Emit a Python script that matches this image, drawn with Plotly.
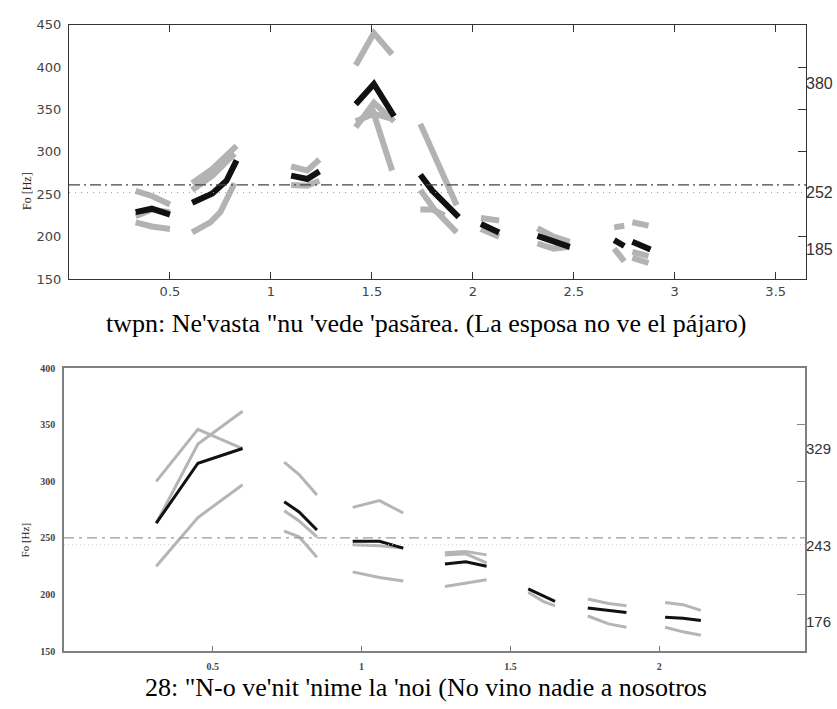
import plotly.graph_objects as go

W, H = 837, 709

# ---------------- top chart data ----------------
top_caption = "twpn: Ne'vasta \"nu 'vede 'pasărea. (La esposa no ve el pájaro)"
top_xticks = [0.5, 1, 1.5, 2, 2.5, 3, 3.5]
top_yticks = [150, 200, 250, 300, 350, 400, 450]
top_right_ticks = [200, 300, 350, 400]
top_right_labels = [380, 252, 185]
top_ref_dashdot = 261
top_ref_dot = 252

top_black_x = [[0.33, 0.41, 0.50], [0.61, 0.71, 0.78, 0.83], [1.10, 1.18, 1.24],
               [1.42, 1.51, 1.61], [1.74, 1.80, 1.93], [2.04, 2.09, 2.13],
               [2.32, 2.38, 2.48], [2.70, 2.75], [2.79, 2.88]]
top_black_y = [[229, 233, 226], [240, 251, 266, 290], [272, 268, 277],
               [356, 380, 342], [273, 254, 223], [215, 209, 205],
               [201, 196, 188], [196, 189], [194, 185]]

top_gray_x = [[0.33, 0.41, 0.50], [0.33, 0.41, 0.50], [0.33, 0.41, 0.50],
              [0.61, 0.71, 0.83], [0.61, 0.71, 0.82], [0.61, 0.70, 0.75, 0.82],
              [1.10, 1.18, 1.24], [1.10, 1.18, 1.24],
              [1.42, 1.51, 1.60], [1.42, 1.51, 1.61], [1.42, 1.51, 1.60], [1.50, 1.55, 1.60],
              [1.74, 1.80, 1.92], [1.74, 1.81, 1.92], [1.74, 1.80, 1.86],
              [2.04, 2.13], [2.04, 2.13],
              [2.32, 2.40, 2.48], [2.32, 2.40, 2.48],
              [2.70, 2.75], [2.79, 2.87], [2.70, 2.75], [2.79, 2.87], [2.79, 2.87]]
top_gray_y = [[254, 248, 238], [217, 212, 209], [224, 232, 229],
              [263, 280, 307], [255, 272, 298], [205, 217, 229, 263],
              [283, 278, 291], [261, 260, 266],
              [402, 440, 415], [329, 358, 336], [336, 345, 339], [352, 315, 278],
              [333, 300, 237], [255, 232, 205], [232, 232, 225],
              [222, 219], [209, 200],
              [210, 200, 194], [192, 186, 188],
              [211, 213], [217, 213], [186, 171], [182, 177], [175, 169]]

# ---------------- bottom chart data ----------------
bot_caption = "28: \"N-o ve'nit 'nime la 'noi (No vino nadie a nosotros"
bot_xticks = [0.5, 1, 1.5, 2]
bot_yticks = [150, 200, 250, 300, 350, 400]
bot_right_ticks = [200, 300, 350]
bot_right_labels = [329, 243, 176]
bot_ref_dashdot = 250
bot_ref_dot = 244

bot_black_x = [[0.31, 0.45, 0.60], [0.74, 0.79, 0.85], [0.97, 1.06, 1.14],
               [1.28, 1.35, 1.42], [1.56, 1.61, 1.65], [1.76, 1.83, 1.89],
               [2.02, 2.08, 2.14]]
bot_black_y = [[263, 316, 329], [282, 273, 257], [247, 247, 241],
               [227, 229, 225], [205, 199, 194], [188, 186, 184],
               [180, 179, 177]]

bot_gray_x = [[0.31, 0.45, 0.60], [0.31, 0.45, 0.60], [0.31, 0.45, 0.60],
              [0.74, 0.79, 0.85], [0.74, 0.79, 0.85], [0.74, 0.79, 0.85],
              [0.97, 1.06, 1.14], [0.97, 1.06, 1.14], [0.97, 1.06, 1.14],
              [1.28, 1.35, 1.42], [1.28, 1.35, 1.42], [1.28, 1.35, 1.42],
              [1.56, 1.61, 1.65],
              [1.76, 1.83, 1.89], [1.76, 1.83, 1.89],
              [2.02, 2.08, 2.14], [2.02, 2.08, 2.14]]
bot_gray_y = [[300, 346, 329], [263, 333, 362], [225, 268, 297],
              [317, 306, 288], [274, 265, 251], [256, 251, 233],
              [277, 283, 272], [244, 243, 241], [220, 215, 212],
              [237, 238, 235], [235, 236, 228], [207, 210, 213],
              [202, 194, 190],
              [196, 192, 190], [181, 174, 171],
              [193, 191, 186], [171, 167, 164]]

TOP_XMAX = 3.65
BOT_XMAX = 2.49

GRAY_TOP = "#b3b3b3"
GRAY_BOT = "#b5b5b5"
BLACK = "#111111"

fig = go.Figure()

def add_segments(xs, ys, color, width, xa, ya):
    for sx, sy in zip(xs, ys):
        fig.add_trace(go.Scatter(x=sx, y=sy, mode="lines", xaxis=xa, yaxis=ya,
                                 line=dict(color=color, width=width),
                                 hoverinfo="skip", showlegend=False))

add_segments(top_gray_x, top_gray_y, GRAY_TOP, 6, "x", "y")
add_segments(top_black_x, top_black_y, BLACK, 6, "x", "y")
add_segments(bot_gray_x, bot_gray_y, GRAY_BOT, 3, "x2", "y2")
add_segments(bot_black_x, bot_black_y, BLACK, 3, "x2", "y2")

def px_x(p):
    return p / W

def px_y(p):
    return 1 - p / H

top_xdom = [px_x(69), px_x(806)]
top_ydom = [px_y(278), px_y(18)]
bot_xdom = [px_x(64), px_x(805)]
bot_ydom = [px_y(658), px_y(369)]

sans = "DejaVu Sans"
serif = "Liberation Serif, Times New Roman, serif"

fig.update_layout(
    width=W, height=H,
    margin=dict(l=0, r=0, t=0, b=0),
    paper_bgcolor="white", plot_bgcolor="white",
    showlegend=False,
    xaxis=dict(domain=top_xdom, anchor="y", range=[0, TOP_XMAX],
               tickvals=top_xticks, ticks="inside", ticklen=7, tickcolor="#333",
               showline=True, linecolor="#333", linewidth=1.2, mirror="ticks",
               showgrid=False, zeroline=False,
               tickfont=dict(family=sans, size=13, color="#444")),
    yaxis=dict(domain=top_ydom, anchor="x", range=[150, 450],
               tickvals=top_yticks, ticks="", showline=True, linecolor="#333",
               linewidth=1.2, mirror=True, showgrid=False, zeroline=False,
               ticklabelstandoff=4,
               tickfont=dict(family=sans, size=13, color="#444")),
    yaxis3=dict(overlaying="y", anchor="x", side="right", range=[150, 450],
                tickvals=top_right_ticks, ticks="inside", ticklen=8, tickcolor="#333",
                showticklabels=False, showline=False, showgrid=False, zeroline=False),
    xaxis2=dict(domain=bot_xdom, anchor="y2", range=[0, BOT_XMAX],
                tickvals=bot_xticks, ticks="inside", ticklen=5, tickcolor="#777",
                showline=True, linecolor="#808080", linewidth=1.5, mirror=True,
                showgrid=False, zeroline=False, ticklabelstandoff=5,
                tickfont=dict(family=serif, size=10, color="#444", weight="bold")),
    yaxis2=dict(domain=bot_ydom, anchor="x2", range=[150, 400],
                tickvals=bot_yticks, ticks="", showline=True, linecolor="#808080",
                linewidth=1.5, mirror=True, showgrid=False, zeroline=False,
                ticklabelstandoff=5,
                tickfont=dict(family=serif, size=10, color="#444", weight="bold")),
    yaxis5=dict(overlaying="y2", anchor="x2", side="right", range=[150, 400],
                tickvals=bot_right_ticks, ticks="inside", ticklen=8, tickcolor="#888",
                showticklabels=False, showline=False, showgrid=False, zeroline=False),
)

# dummy traces so overlay axes render
for ya, xa in [("y3", "x"), ("y5", "x2")]:
    fig.add_trace(go.Scatter(x=[None], y=[None], xaxis=xa, yaxis=ya,
                             mode="lines", showlegend=False, hoverinfo="skip"))

# reference lines
shapes = [
    dict(type="line", xref="x domain", yref="y", x0=0, x1=1,
         y0=top_ref_dashdot, y1=top_ref_dashdot,
         line=dict(color="#444", width=1.2, dash="11px,4px,2px,4px")),
    dict(type="line", xref="x domain", yref="y", x0=0, x1=1,
         y0=top_ref_dot, y1=top_ref_dot,
         line=dict(color="#999", width=1, dash="1px,5px")),
    dict(type="line", xref="x2 domain", yref="y2", x0=0, x1=1,
         y0=bot_ref_dashdot, y1=bot_ref_dashdot,
         line=dict(color="#999", width=1.3, dash="10px,5px,3px,5px")),
    dict(type="line", xref="x2 domain", yref="y2", x0=0, x1=1,
         y0=bot_ref_dot, y1=bot_ref_dot,
         line=dict(color="#ccc", width=1, dash="1px,3px")),
]
fig.update_layout(shapes=shapes)

annotations = [
    dict(text="Fo [Hz]", xref="paper", yref="paper", x=px_x(27), y=px_y(188),
         xanchor="center", yanchor="middle",
         textangle=-90, showarrow=False, font=dict(family=serif, size=12, color="#222")),
    dict(text="Fo [Hz]", xref="paper", yref="paper", x=px_x(25), y=px_y(545),
         xanchor="center", yanchor="middle",
         textangle=-90, showarrow=False, font=dict(family=serif, size=11, color="#222")),
    dict(text=top_caption, xref="paper", yref="paper", x=px_x(426), y=px_y(323),
         xanchor="center", yanchor="middle",
         showarrow=False, font=dict(family=serif, size=26, color="#000")),
    dict(text=bot_caption, xref="paper", yref="paper", x=px_x(426), y=px_y(695),
         xanchor="center", yanchor="middle",
         showarrow=False, font=dict(family=serif, size=26, color="#000")),
]
for v in top_right_labels:
    annotations.append(dict(text=str(v), xref="x domain", yref="y", x=1, y=v,
                            xanchor="left", yanchor="middle", showarrow=False,
                            xshift=-2,
                            font=dict(family="Liberation Sans", size=16, color="#333")))
for v in bot_right_labels:
    annotations.append(dict(text=str(v), xref="x2 domain", yref="y2", x=1, y=v,
                            xanchor="left", yanchor="middle", showarrow=False,
                            xshift=-1,
                            font=dict(family="Liberation Sans", size=15, color="#333")))
fig.update_layout(annotations=annotations)

fig.write_html("out.html", config={"displayModeBar": False},
               post_script="document.body.style.margin='0';document.body.style.overflow='hidden';")
